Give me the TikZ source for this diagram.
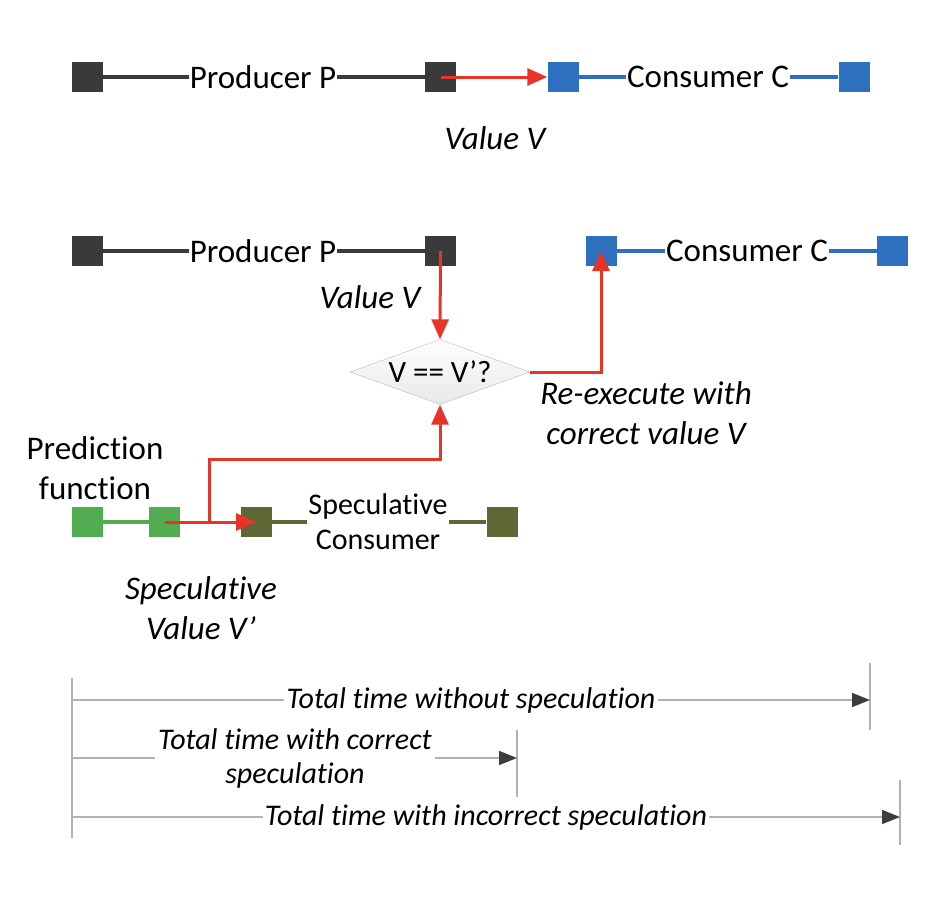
\documentclass[tikz,border=0pt]{standalone}
\usepackage{fontspec}
\setmainfont{Carlito}[Ligatures={TeX,NoCommon}]
\usetikzlibrary{arrows.meta,shapes.geometric,positioning,calc}
\definecolor{prodgray}  {RGB}{58,58,58}
\definecolor{consblue}  {RGB}{46,112,192}
\definecolor{predgreen} {RGB}{82,172,82}
\definecolor{specolive} {RGB}{94,104,52}
\definecolor{flowred}   {RGB}{232,52,40}
\definecolor{timegray}  {RGB}{178,178,178}
\definecolor{tipgray}   {RGB}{60,60,60}

\begin{document}
\begin{tikzpicture}[x=1pt,y=-1pt,
  blk/.style={minimum width=31pt,minimum height=30pt,inner sep=0pt},
  lbl/.style={font=\fontsize{33}{40}\selectfont,inner sep=1pt,align=center},
  ilbl/.style={lbl,font=\fontsize{33}{40}\selectfont\itshape},
  slbl/.style={font=\fontsize{30}{35}\selectfont,inner sep=1pt,align=center},
  tlbl/.style={font=\fontsize{30}{34}\selectfont\itshape,inner sep=2pt,align=center},
  wire/.style={line width=4.5pt},
  flow/.style={draw=flowred,line width=3pt,
               -{Triangle[length=20pt,width=17pt]}},
  check/.style={diamond,draw=gray!55,top color=white,bottom color=gray!18,
                aspect=2.75,minimum width=180pt,minimum height=65pt,
                inner sep=0pt,font=\fontsize{31}{36}\selectfont},
  tline/.style={draw=timegray,line width=1.6pt},
  tarrow/.style={tline,-{Triangle[length=18pt,width=14pt,color=tipgray]}},
]
\useasboundingbox (0,0) rectangle (946,918);

%% Top row: producer feeds the consumer directly
\node[blk,fill=prodgray] (p1a) at (87.5,77) {};
\node[blk,fill=prodgray] (p1b) at (440.5,77) {};
\node[lbl] (p1t) at (263,77) {Producer P};
\node[blk,fill=consblue] (c1a) at (563,77) {};
\node[blk,fill=consblue] (c1b) at (854,77) {};
\node[lbl] (c1t) at (708,77) {Consumer C};
\draw[wire,prodgray] (p1a) -- (p1t) -- (p1b);
\draw[wire,consblue] (c1a) -- (c1t) -- (c1b);
\draw[flow] (p1b.center) -- (c1a.west);
\node[ilbl] (v1) at (495,138) {Value V};

%% Second row: speculative execution
\node[blk,fill=prodgray] (p2a) at (87.5,251) {};
\node[blk,fill=prodgray] (p2b) at (440.5,251) {};
\node[lbl] (p2t) at (263,251) {Producer P};
\node[blk,fill=consblue] (c2a) at (601,251) {};
\node[blk,fill=consblue] (c2b) at (892.5,251) {};
\node[lbl] (c2t) at (747,251) {Consumer C};
\draw[wire,prodgray] (p2a) -- (p2t) -- (p2b);
\draw[wire,consblue] (c2a) -- (c2t) -- (c2b);
\node[ilbl] (v2) at (370,297) {Value V};

%% Check against the prediction
\node[check] (dia) at (440,372) {V == V'?};
\draw[flow] (p2b.center) -- (dia.north);
\draw[flow] (dia.east) -| (c2a.center);
\node[ilbl] (redo) at (646,413) {Re-execute with\\correct value V};

%% Prediction function and speculative consumer
\node[lbl] (pred) at (95,468) {Prediction\\function};
\node[blk,fill=predgreen] (g1) at (87.5,522) {};
\node[blk,fill=predgreen] (g2) at (164.5,522) {};
\draw[wire,predgreen] (g1) -- (g2);
\node[blk,fill=specolive] (s1) at (256,522) {};
\node[blk,fill=specolive] (s2) at (502,522) {};
\node[slbl] (st) at (378,522) {Speculative\\Consumer};
\draw[wire,specolive] (s1) -- (st.west |- s1);
\draw[wire,specolive] (st.east |- s2) -- (s2);
\coordinate (fork) at (209,522);
\draw[flow] (g2.center) -- (s1.center);
\draw[flow] (fork) -- ++(0,-63) -| (dia.south);
\node[ilbl] (sv) at (201,608) {Speculative\\Value V'};

%% Timing comparison
\coordinate (ttop) at (72,678);
\coordinate (tbot) at (72,838);
\draw[tline] (ttop) -- (tbot);
\draw[tline] (870,663) coordinate (k1a) -- (870,730) coordinate (k1b);
\draw[tline] (517,730) coordinate (k2a) -- (517,797) coordinate (k2b);
\draw[tline] (900,780) coordinate (k3a) -- (900,845) coordinate (k3b);

\node[tlbl] (tx1) at (471,700) {Total time without speculation};
\node[tlbl,inner sep=3pt] (tx2) at (295,758) {Total time with correct\\speculation};
\node[tlbl] (tx3) at (486,817) {Total time with incorrect speculation};

\draw[tline] (ttop |- tx1) -- (tx1);
\draw[tarrow] (tx1) -- (k1a |- tx1);
\draw[tline] (ttop |- tx2) -- (tx2);
\draw[tarrow] (tx2) -- (k2a |- tx2);
\draw[tline] (ttop |- tx3) -- (tx3);
\draw[tarrow] (tx3) -- (k3a |- tx3);

\end{tikzpicture}
\end{document}
